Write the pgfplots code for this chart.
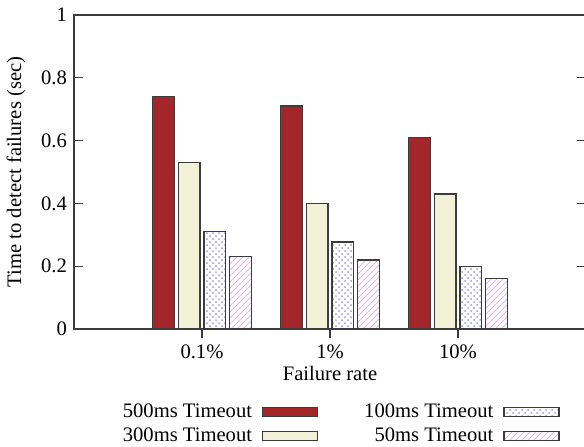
\documentclass[border=0pt]{standalone}
\usepackage{fontspec}
\setmainfont{Liberation Serif}
\usepackage{pgfplots}
\pgfplotsset{compat=1.18}
\usetikzlibrary{patterns}

\definecolor{barred}{RGB}{165,38,40}
\definecolor{barbeige}{RGB}{242,242,216}
\definecolor{patblue}{RGB}{150,150,240}
\definecolor{patpink}{RGB}{238,180,238}
\definecolor{edge}{RGB}{60,60,60}

\begin{document}
\begin{tikzpicture}
\begin{axis}[
  at={(0,0)}, anchor=south west,
  scale only axis,
  width=256pt, height=157pt,
  xmin=0, xmax=4, ymin=0, ymax=1,
  font=\fontsize{10.3}{12}\selectfont,
  /pgf/number format/assume math mode=true,
  xtick={1,2,3},
  xticklabels={0.1\%,1\%,10\%},
  ytick={0,0.2,0.4,0.6,0.8,1},
  tick align=inside,
  xtick pos=lower,
  ytick pos=both,
  major tick length=4.5pt,
  axis line style={edge,line width=0.6pt},
  tick style={edge,line width=0.6pt},
  xlabel={Failure rate},
  ylabel={Time to detect failures (sec)},
  xlabel style={at={(axis description cs:0.5,-0.14)},anchor=center},
  ylabel style={at={(axis description cs:-0.113,0.5)},anchor=center},
  ybar, bar width=0.17,
  every axis plot/.append style={draw=edge,line width=0.6pt},
  legend columns=2,
  legend plot pos=right,
  legend cell align=right,
  legend image code/.code={\draw[#1] (0pt,-2.3pt) rectangle (27.5pt,2.3pt);},
  legend style={draw=none, fill=none,
    at={(0.52,-0.303)}, anchor=center,
    row sep=1.5pt,
    nodes={inner sep=1pt},
    /tikz/every even column/.append style={column sep=22pt},
    /tikz/every odd column/.append style={column sep=4pt}},
]
\addplot[fill=barred, bar shift=-0.3] coordinates {(1,0.74) (2,0.71) (3,0.61)};
\addlegendentry{500ms Timeout}
\addplot[fill=white, postaction={pattern=crosshatch dots, pattern color=patblue}, bar shift=0.1] coordinates {(1,0.31) (2,0.277) (3,0.20)};
\addlegendentry{100ms Timeout}
\addplot[fill=barbeige, bar shift=-0.1] coordinates {(1,0.53) (2,0.40) (3,0.43)};
\addlegendentry{300ms Timeout}
\addplot[fill=white, postaction={pattern=north east lines, pattern color=patpink}, bar shift=0.3] coordinates {(1,0.23) (2,0.22) (3,0.16)};
\addlegendentry{50ms Timeout}
\end{axis}
\pgfresetboundingbox
\useasboundingbox (-37pt,-58.5pt) rectangle (255pt,164.5pt);
\end{tikzpicture}
\end{document}
